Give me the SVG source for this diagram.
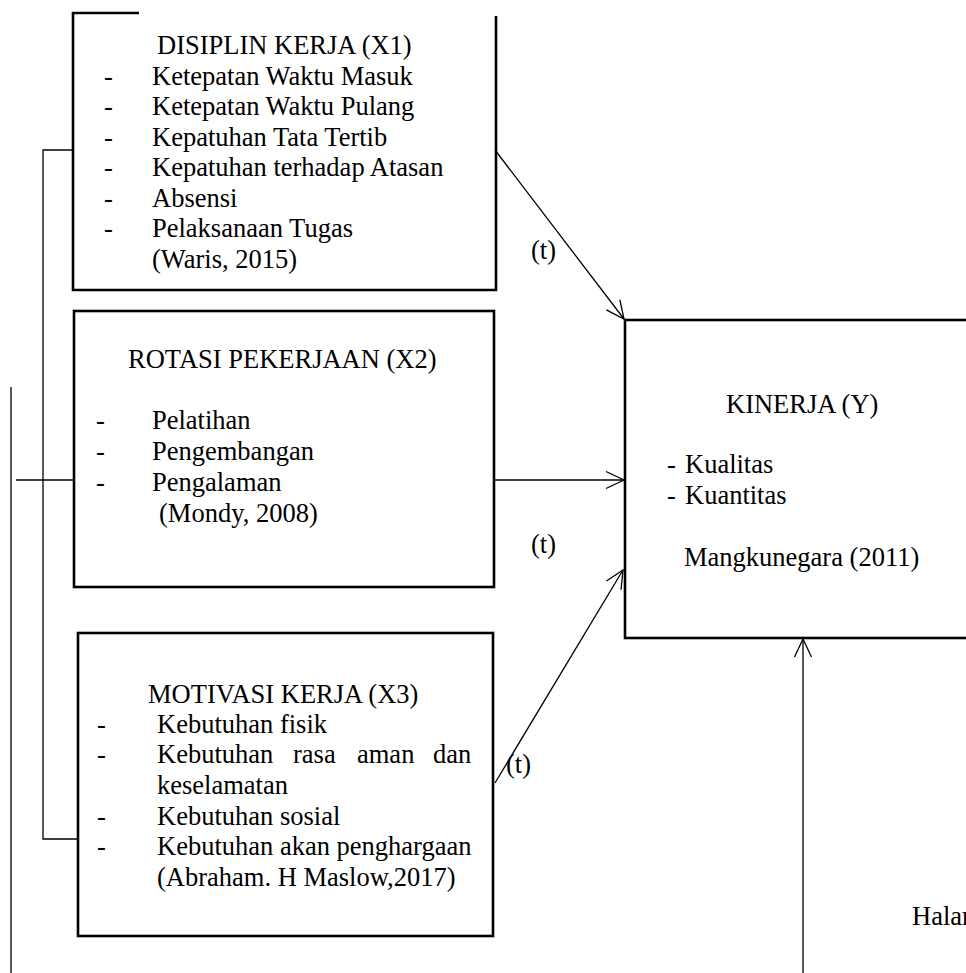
<svg xmlns="http://www.w3.org/2000/svg" width="966" height="973" viewBox="0 0 966 973">
<style>
text{font-family:"Liberation Serif","Times New Roman",serif;font-size:26.5px;fill:#000}
.box{fill:none;stroke:#000;stroke-width:2.6}
.ln{fill:none;stroke:#000;stroke-width:1.3}
.arr{fill:none;stroke:#000;stroke-width:1.3;marker-end:url(#ah)}
</style>
<defs>
<marker id="ah" markerUnits="userSpaceOnUse" viewBox="-20 -10 22 20" refX="0" refY="0" markerWidth="22" markerHeight="20" orient="auto" overflow="visible">
<path d="M-18,-8.5 L0,0 L-18,8.5" fill="none" stroke="#000" stroke-width="1.3"/>
</marker>
</defs>
<rect width="966" height="973" fill="#fff"/>
<g id="connectors">
<path class="ln" d="M73,150 H43 V839 H78"/>
<path class="ln" d="M74,480 H16"/>
<path class="ln" d="M11,387 V973"/>
<path class="arr" d="M495,150 L624,319"/>
<path class="arr" d="M494,480 H624"/>
<path class="arr" d="M495,783 L623,570"/>
<path class="arr" d="M803,973 V639"/>
<text x="531" y="259">(t)</text>
<text x="531" y="553">(t)</text>
<text x="506" y="773">(t)</text>
</g>
<g id="x1">
<path class="box" d="M139,13 H73 V290 H496 V16"/>
<text x="157" y="54">DISIPLIN KERJA (X1)</text>
<text x="104" y="85">-</text><text x="152" y="85">Ketepatan Waktu Masuk</text>
<text x="104" y="115">-</text><text x="152" y="115">Ketepatan Waktu Pulang</text>
<text x="104" y="146">-</text><text x="152" y="146">Kepatuhan Tata Tertib</text>
<text x="104" y="176">-</text><text x="152" y="176">Kepatuhan terhadap Atasan</text>
<text x="104" y="207">-</text><text x="152" y="207">Absensi</text>
<text x="104" y="237">-</text><text x="152" y="237">Pelaksanaan Tugas</text>
<text x="152" y="268">(Waris, 2015)</text>
</g>
<g id="x2">
<rect class="box" x="74" y="311" width="420" height="276"/>
<text x="128" y="368">ROTASI PEKERJAAN (X2)</text>
<text x="96" y="429">-</text><text x="152" y="429">Pelatihan</text>
<text x="96" y="460">-</text><text x="152" y="460">Pengembangan</text>
<text x="96" y="491">-</text><text x="152" y="491">Pengalaman</text>
<text x="159" y="522">(Mondy, 2008)</text>
</g>
<g id="x3">
<rect class="box" x="78" y="633" width="415" height="303"/>
<text x="148" y="703">MOTIVASI KERJA (X3)</text>
<text x="97" y="733">-</text><text x="157" y="733">Kebutuhan fisik</text>
<text x="97" y="763">-</text><text x="157" y="763">Kebutuhan</text><text x="293" y="763">rasa</text><text x="357" y="763">aman</text><text x="433" y="763">dan</text>
<text x="157" y="794">keselamatan</text>
<text x="97" y="825">-</text><text x="157" y="825">Kebutuhan sosial</text>
<text x="97" y="855">-</text><text x="157" y="855">Kebutuhan akan penghargaan</text>
<text x="157" y="886">(Abraham. H Maslow,2017)</text>
</g>
<g id="y">
<rect class="box" x="625" y="320" width="400" height="318"/>
<text x="726" y="413">KINERJA (Y)</text>
<text x="667" y="473">-</text><text x="685" y="473">Kualitas</text>
<text x="667" y="504">-</text><text x="685" y="504">Kuantitas</text>
<text x="684" y="566">Mangkunegara (2011)</text>
</g>
<g id="page">
<text x="912" y="925">Halaman</text>
</g>
</svg>
